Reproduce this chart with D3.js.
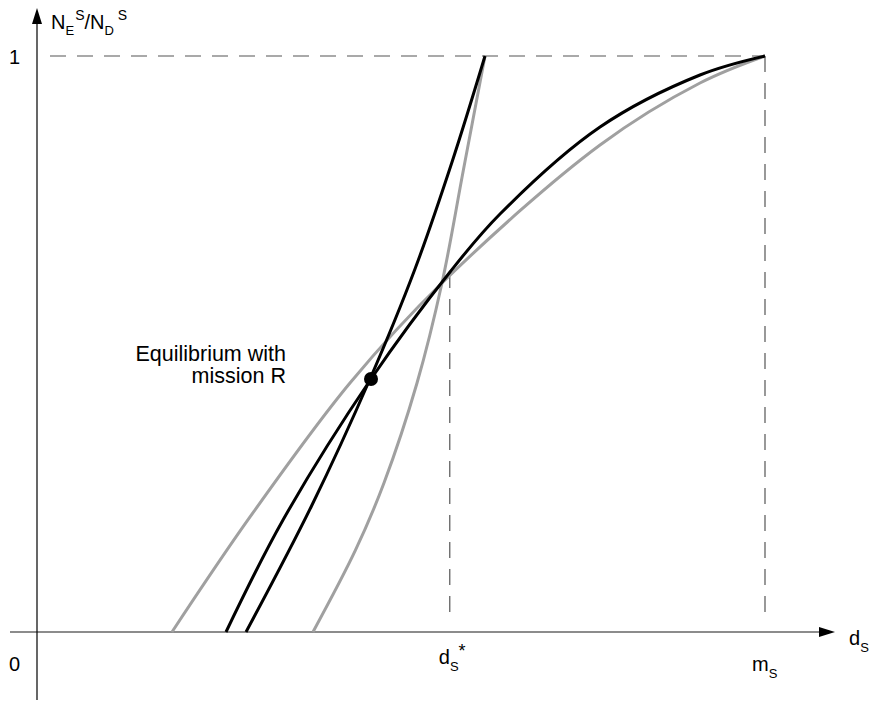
<!DOCTYPE html>
<html>
<head>
<meta charset="utf-8">
<script src="https://cdn.jsdelivr.net/npm/d3@7"></script>
<style>
  body { margin: 0; background: #fff; }
  text { font-family: "Liberation Sans", Arial, sans-serif; fill: #000; }
</style>
</head>
<body>
<div id="chart"></div>
<script>
// curves, x in units of m_s, y = N_E^S / N_D^S
var blackFlat = [[0.2596,0],[0.3379,0.1944],[0.4588,0.4392],[0.5673,0.6250],[0.6360,0.7257],[0.7734,0.8767],[0.9107,0.9670],[1,1]];
var greyFlat = [[0.1854,0],[0.2926,0.1997],[0.4299,0.4323],[0.5577,0.6076],[0.7734,0.8455],[0.9107,0.9531],[1,1]];
var blackSteep = [[0.2871,0],[0.3771,0.2188],[0.4574,0.4392],[0.5192,0.6302],[0.5701,0.8160],[0.6154,1]];
var greySteep = [[0.3791,0],[0.4376,0.1424],[0.4766,0.2587],[0.5220,0.4323],[0.5563,0.6059],[0.5857,0.8021],[0.6154,1]];
var equilibrium = [0.4588, 0.4392];
var dsStar = 0.567, dsStarTop = 0.625;

var W = 882, H = 702;
var svg = d3.select("#chart").append("svg")
    .attr("width", W).attr("height", H);

var x = d3.scaleLinear().domain([0, 1]).range([37, 765]);
var y = d3.scaleLinear().domain([0, 1]).range([632, 56]);

// dashed guides
var dash = "16,11";
svg.append("line")
    .attr("x1", 50).attr("x2", x(1))
    .attr("y1", y(1)).attr("y2", y(1))
    .attr("stroke", "#555").attr("stroke-width", 1.2)
    .attr("stroke-dasharray", dash);
svg.append("line")
    .attr("x1", x(1)).attr("x2", x(1))
    .attr("y1", y(1)).attr("y2", y(0) - 12)
    .attr("stroke", "#555").attr("stroke-width", 1.2)
    .attr("stroke-dasharray", dash);
svg.append("line")
    .attr("x1", x(dsStar)).attr("x2", x(dsStar))
    .attr("y1", y(dsStarTop)).attr("y2", y(0) - 14)
    .attr("stroke", "#555").attr("stroke-width", 1.2)
    .attr("stroke-dasharray", dash);

// axes
svg.append("line")
    .attr("x1", 10).attr("x2", 824)
    .attr("y1", y(0)).attr("y2", y(0))
    .attr("stroke", "#666").attr("stroke-width", 1.5);
svg.append("path")
    .attr("d", "M835," + y(0) + " L819," + (y(0) - 5) + " L819," + (y(0) + 5) + "Z")
    .attr("fill", "#000");
svg.append("line")
    .attr("x1", x(0)).attr("x2", x(0))
    .attr("y1", 700).attr("y2", 20)
    .attr("stroke", "#000").attr("stroke-width", 1.2);
svg.append("path")
    .attr("d", "M" + x(0) + ",8 L" + (x(0) - 5) + ",24 L" + (x(0) + 5) + ",24Z")
    .attr("fill", "#000");

// curves
var line = d3.line()
    .x(function(d) { return x(d[0]); })
    .y(function(d) { return y(d[1]); })
    .curve(d3.curveCatmullRom.alpha(0.5));

[[greyFlat, "#a0a0a0"], [greySteep, "#a0a0a0"], [blackFlat, "#000"], [blackSteep, "#000"]].forEach(function(c) {
  svg.append("path")
      .datum(c[0])
      .attr("d", line)
      .attr("fill", "none")
      .attr("stroke", c[1])
      .attr("stroke-width", 3);
});

svg.append("circle")
    .attr("cx", x(equilibrium[0]))
    .attr("cy", y(equilibrium[1]))
    .attr("r", 7)
    .attr("fill", "#000");

// labels
svg.append("text")
    .attr("x", 286).attr("y", 361)
    .attr("text-anchor", "end")
    .style("font-size", "21.5px")
    .text("Equilibrium with");
svg.append("text")
    .attr("x", 286).attr("y", 383)
    .attr("text-anchor", "end")
    .style("font-size", "21.5px")
    .text("mission R");

svg.append("text").attr("x", 9).attr("y", 64).style("font-size", "20px").text("1");
svg.append("text").attr("x", 9).attr("y", 671).style("font-size", "20px").text("0");

var yl = svg.append("text").attr("x", 51).attr("y", 29).style("font-size", "20px");
yl.append("tspan").text("N");
yl.append("tspan").attr("dy", 6).style("font-size", "13px").text("E");
yl.append("tspan").attr("dy", -15).attr("dx", 1).style("font-size", "14px").text("S");
yl.append("tspan").attr("dy", 9).text("/N");
yl.append("tspan").attr("dy", 6).style("font-size", "13px").text("D");
yl.append("tspan").attr("dy", -15).attr("dx", 4).style("font-size", "14px").text("S");

var dsl = svg.append("text").attr("x", x(dsStar) - 11).attr("y", 664).style("font-size", "20px");
dsl.append("tspan").text("d");
dsl.append("tspan").attr("dy", 7).style("font-size", "13px").text("S");
dsl.append("tspan").attr("dy", -14).style("font-size", "18px").text("*");

var msl = svg.append("text").attr("x", x(1) - 13).attr("y", 671).style("font-size", "20px");
msl.append("tspan").text("m");
msl.append("tspan").attr("dy", 7).style("font-size", "13px").text("S");

var dl = svg.append("text").attr("x", 849).attr("y", 645).style("font-size", "20px");
dl.append("tspan").text("d");
dl.append("tspan").attr("dy", 7).style("font-size", "13px").text("S");
</script>
</body>
</html>
